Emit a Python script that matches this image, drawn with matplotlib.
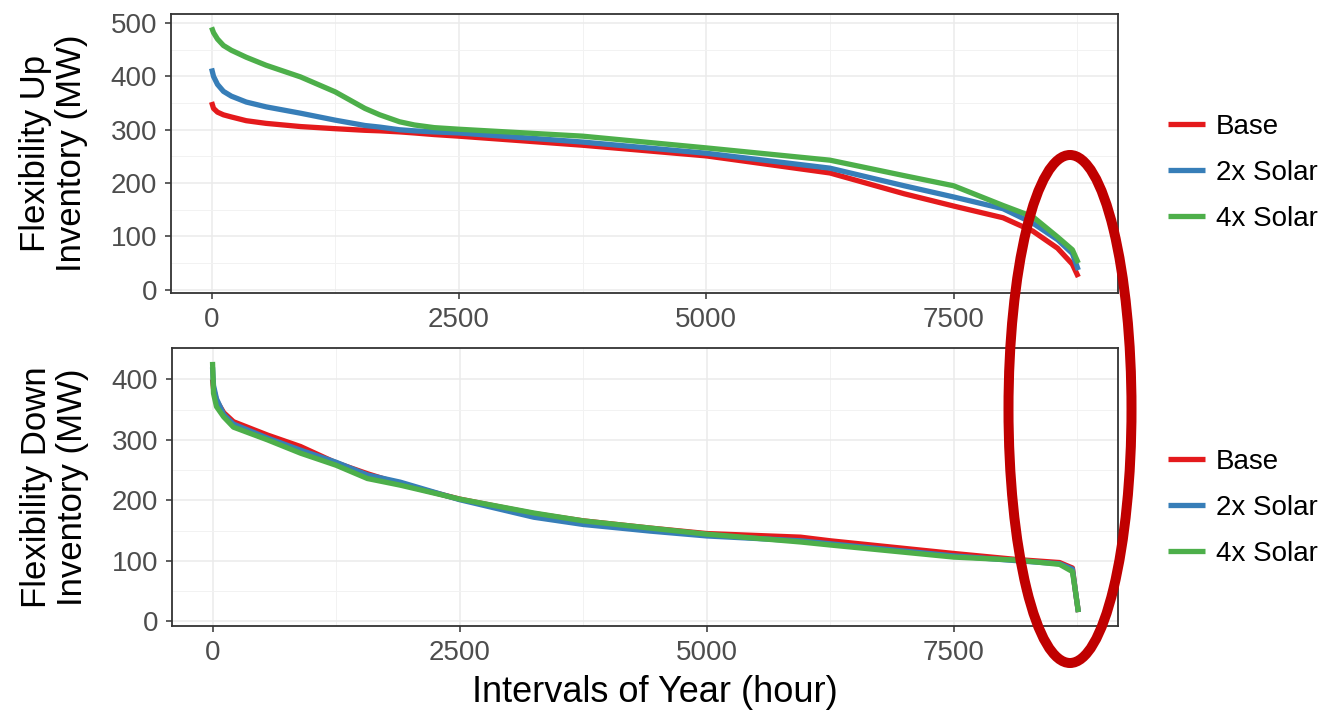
import matplotlib
matplotlib.use("Agg")
import matplotlib.pyplot as plt
from matplotlib.patches import Ellipse
from matplotlib.lines import Line2D

plt.rcParams['font.family'] = ['Liberation Sans', 'DejaVu Sans']

# series names and colours (ggplot Set1)
series = ["Base", "2x Solar", "4x Solar"]
colors = ["#E41A1C", "#377EB8", "#4DAF4A"]

# Flexibility up inventory (MW), duration-curve points
up_hours = [0, 20, 60, 120, 200, 350, 550, 900, 1250, 1550, 1700, 1900, 2050,
            2250, 2500, 3750, 5000, 6250, 7000, 7500, 8000, 8300, 8550, 8700, 8760]
up_base = [352, 340, 333, 328, 324, 317, 312, 306, 302, 299, 298, 296, 294,
           291, 288, 271, 251, 219, 180, 157, 135, 110, 78, 48, 24]
up_2x = [415, 400, 385, 372, 363, 352, 343, 331, 318, 308, 305, 300, 298,
         296, 294, 277, 256, 228, 195, 174, 152, 125, 94, 68, 37]
up_4x = [492, 482, 470, 458, 449, 436, 421, 399, 371, 340, 328, 315, 309,
         304, 301, 288, 266, 243, 214, 195, 158, 137, 99, 75, 50]

# Flexibility down inventory (MW)
dn_hours = [0, 10, 40, 113, 212, 556, 890, 1250, 1567, 1900, 2500, 3250,
            3750, 4430, 5000, 5950, 6250, 7500, 8140, 8570, 8700, 8730, 8760]
dn_base = [400, 385, 365, 345, 330, 308, 289, 262, 244, 227, 202, 178,
           166, 154, 145, 139, 133, 112, 102, 97, 88, 50, 15]
dn_2x = [420, 390, 368, 342, 326, 303, 283, 263, 242, 230, 201, 172,
         160, 149, 141, 133, 128, 108, 100, 95, 86, 50, 15]
dn_4x = [429, 377, 355, 338, 321, 300, 278, 258, 236, 225, 202, 179,
         166, 154, 144, 131, 126, 106, 101, 94, 82, 50, 15]

W, H = 1334, 719
fig = plt.figure(figsize=(W / 100, H / 100), dpi=100)


def px_axes(left, top, right, bottom):
    return fig.add_axes([left / W, 1 - bottom / H, (right - left) / W, (bottom - top) / H])


def style(ax, ylim, yticks, yminor, ylabel):
    ax.set_xlim(-410, 9161)
    ax.set_ylim(*ylim)
    ax.set_xticks([0, 2500, 5000, 7500])
    ax.set_xticks([1250, 3750, 6250, 8750], minor=True)
    ax.set_yticks(yticks)
    ax.set_yticks(yminor, minor=True)
    ax.grid(which='major', color='#EBEBEB', lw=1.1, zorder=0)
    ax.grid(which='minor', color='#F2F2F2', lw=0.7, zorder=0)
    ax.set_axisbelow(True)
    for s in ax.spines.values():
        s.set_color('#333333')
        s.set_linewidth(1.3)
    ax.tick_params(which='major', length=4, width=1.1, color='#333333',
                   labelcolor='#4D4D4D', labelsize=20, pad=6)
    ax.tick_params(which='minor', length=0)
    ax.set_ylabel(ylabel, fontsize=25, color='black', linespacing=1.1)
    ax.yaxis.set_label_coords(-0.088, 0.5)


ax1 = px_axes(171, 14, 1118, 293)
for vals, c in zip([up_base, up_2x, up_4x], colors):
    ax1.plot(up_hours, vals, color=c, lw=3.8, solid_capstyle='butt', zorder=3)
style(ax1, (-6, 517), [0, 100, 200, 300, 400, 500], [50, 150, 250, 350, 450],
      "Flexibility Up\nInventory (MW)")

ax2 = px_axes(172, 348, 1118, 626)
for vals, c in zip([dn_base, dn_2x, dn_4x], colors):
    ax2.plot(dn_hours, vals, color=c, lw=3.8, solid_capstyle='butt', zorder=3)
style(ax2, (-8, 452), [0, 100, 200, 300, 400], [50, 150, 250, 350],
      "Flexibility Down\nInventory (MW)")

fig.text(655 / W, 1 - 693 / H, "Intervals of Year (hour)", fontsize=26,
         ha='center', va='center')

handles = [Line2D([], [], color=c, lw=3.8, solid_capstyle='butt') for c in colors]
for ycen in (173, 508):
    fig.legend(handles, series, loc='center left',
               bbox_to_anchor=(1168 / W, 1 - ycen / H), frameon=False,
               fontsize=20, handlelength=1.33, handletextpad=0.38,
               labelspacing=0.72, borderpad=0, borderaxespad=0)

# highlight ellipse around the end of the year
ell = Ellipse((1070 / W, 1 - 409 / H), 123 / W, 508 / H, transform=fig.transFigure,
              fill=False, edgecolor='#C00000', lw=7.2, zorder=10)
fig.add_artist(ell)

fig.savefig("out.png", dpi=100, facecolor='white')
